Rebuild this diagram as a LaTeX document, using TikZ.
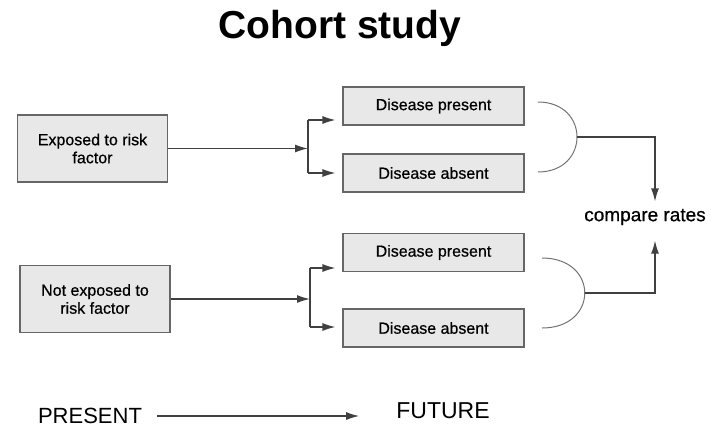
\documentclass[tikz,border=0pt]{standalone}
\usepackage{fontspec}
\setmainfont{Liberation Sans}
\newfontfamily\boxfont[FakeBold=0.6]{Liberation Sans}
\usepackage{tikz}
\usetikzlibrary{arrows.meta,positioning,calc}

\tikzset{
  box/.style={draw=black!60, fill=black!9, line width=1.1pt, align=center, font=\boxfont\fontsize{16}{18}\selectfont},
  groupbox/.style={box, minimum width=150pt, minimum height=67pt},
  result/.style={box, minimum width=181pt, minimum height=38pt},
  conn/.style={draw=black!75, line width=1.3pt},
  curveline/.style={draw=black!55, line width=1pt},
  arr/.style={conn, -{Latex[length=13pt,width=8pt]}},
}

\begin{document}
\begin{tikzpicture}[x=1pt,y=-1pt]
\useasboundingbox (0,0) rectangle (711,432);

% Title
\node[font=\bfseries\fontsize{39}{44}\selectfont, anchor=base] (title) at (340,38) {Cohort study};

% Exposed group
\node[groupbox] (exp) at (92.5,148.5) {Exposed to risk\\factor};
\node[result] (dp1) at (433.5,106) {Disease present};
\node[result] (da1) at (433.5,173) {Disease absent};

% Not exposed group
\node[groupbox] (nexp) at (95,299) {Not exposed to\\risk factor};
\node[result] (dp2) at (433.5,252.5) {Disease present};
\node[result] (da2) at (433.5,328) {Disease absent};

% Outcome
\node[font=\boxfont\fontsize{19}{22}\selectfont] (cmp) at (645,217) {compare rates};

% Time line
\node[font=\fontsize{22}{26}\selectfont, inner sep=0pt] (present) at (90,416) {PRESENT};
\node[font=\fontsize{23}{26}\selectfont, inner sep=0pt] (future) at (443,411) {FUTURE};

% Forks
\coordinate (fork1) at (308,148.5);
\coordinate (ft1) at (308,120);
\coordinate (fb1) at (308,173);
\coordinate (fork2) at (310,299);
\coordinate (ft2) at (310,268);
\coordinate (fb2) at (310,327);

% Bends
\coordinate (b1s) at (538,102);
\coordinate (b1e) at (538,172);
\coordinate (m1) at (577,137);
\coordinate (b2s) at (542,258);
\coordinate (b2e) at (542,328);
\coordinate (m2) at (585,293);

% Connections
\draw[arr] (exp.east) -- (fork1);
\draw[conn] (ft1) -- (fb1);
\draw[arr, shorten >=7pt] (ft1) -- (dp1.west |- ft1);
\draw[arr, shorten >=7pt] (fb1) -- (da1.west |- fb1);

\draw[arr] (nexp.east) -- (fork2);
\draw[conn] (ft2) -- (fb2);
\draw[arr, shorten >=7pt] (ft2) -- (dp2.west |- ft2);
\draw[arr, shorten >=7pt] (fb2) -- (da2.west |- fb2);

\draw[curveline] (b1s) .. controls +(52,0) and +(52,0) .. (b1e);
\draw[curveline] (b2s) .. controls +(57,0) and +(57,0) .. (b2e);
\draw[arr, shorten >=4pt] (m1) -| ($(cmp.north)+(10,0)$);
\draw[arr, shorten >=12pt] (m2) -| ($(cmp.south)+(10,0)$);

\draw[arr, shorten <=15pt, shorten >=37pt] (present.east) -- (present.east -| future.west);
\end{tikzpicture}
\end{document}
